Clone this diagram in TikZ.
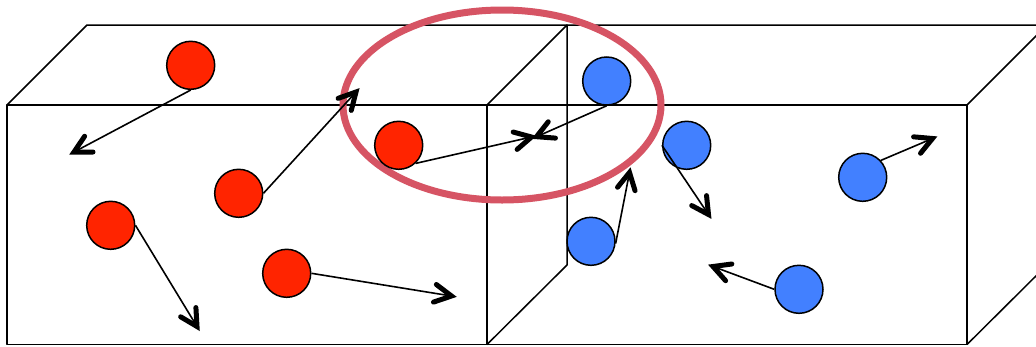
\documentclass[tikz,border=0pt]{standalone}
\usetikzlibrary{calc}
\definecolor{ballred}{RGB}{255,36,0}
\definecolor{ballblue}{RGB}{66,128,255}
\definecolor{ringred}{RGB}{214,84,100}
\newcommand\vparrow[2]{%
  \draw[shaft] (#1) -- (#2);
  \draw[barb] ($(#2)!19pt!28:(#1)$) -- (#2) -- ($(#2)!19pt!-28:(#1)$);}
\begin{document}
\begin{tikzpicture}[x=1pt,y=-1pt,
  edge/.style={line width=1.5pt, line join=round},
  ball/.style={circle, draw=black, line width=1.5pt, minimum size=48pt, inner sep=0pt},
  redball/.style={ball, fill=ballred},
  blueball/.style={ball, fill=ballblue},
  shaft/.style={line width=1.6pt, shorten >=1pt},
  barb/.style={line width=5pt, line cap=round, line join=miter, miter limit=4},
  ring/.style={draw=ringred, line width=7pt}]
\useasboundingbox (0,0) rectangle (1036,346);
\begin{scope}
\clip (0,0) rectangle (1036,346);
% front faces
\draw[edge] (7,105) rectangle (967,344.5);
\draw[edge] (487,105) -- (487,344.5);
% top back edge and diagonals
\draw[edge] (7,105) -- (87,25) -- (1040,25);
\draw[edge] (487,105) -- (567,25) -- (567,265) -- (487,344.5);
\draw[edge] (967,105) -- (1047,25);
\draw[edge] (967,344.5) -- (1047,265);
\end{scope}
% highlight ring
\draw[ring] (502,105) ellipse [x radius=159, y radius=95];
% red particles
\node[redball] (r1) at (190.7,65.3) {};
\node[redball] (r2) at (398.7,145.3) {};
\node[redball] (r3) at (238.7,193.3) {};
\node[redball] (r4) at (110.7,225.3) {};
\node[redball] (r5) at (286.7,273.3) {};
% blue particles
\node[blueball] (b1) at (606.7,81) {};
\node[blueball] (b2) at (686.7,145.3) {};
\node[blueball] (b3) at (591,241.3) {};
\node[blueball] (b4) at (799,289.3) {};
\node[blueball] (b5) at (862.7,177.3) {};
% velocity tips
\coordinate (tr1) at (74,152);
\coordinate (tr2) at (531.5,137);
\coordinate (tr3) at (356,92);
\coordinate (tr4) at (197,326.5);
\coordinate (tr5) at (451.5,296);
\coordinate (tb1) at (536.5,136.7);
\coordinate (tb2) at (708.5,214.5);
\coordinate (tb3) at (629.5,172.5);
\coordinate (tb4) at (713,266.5);
\coordinate (tb5) at (932.5,138.5);
% velocity arrows
\vparrow{r1.south}{tr1}
\vparrow{r2.-47}{tr2}
\vparrow{r3.east}{tr3}
\vparrow{r4.east}{tr4}
\vparrow{r5.east}{tr5}
\vparrow{b1.south}{tb1}
\vparrow{b2.west}{tb2}
\vparrow{b3.-5}{tb3}
\vparrow{b4.west}{tb4}
\vparrow{b5.43}{tb5}
\end{tikzpicture}
\end{document}
